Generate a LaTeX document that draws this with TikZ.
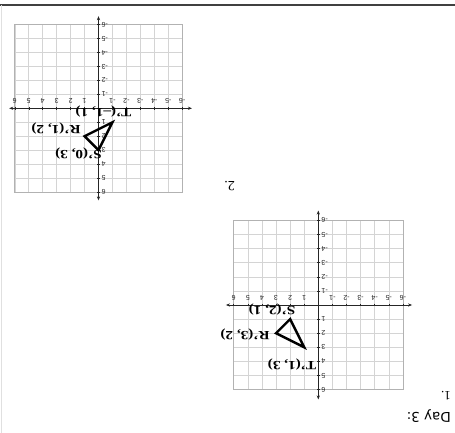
\documentclass[tikz,border=0pt]{standalone}
\usepackage{fontspec}
\setmainfont{Liberation Serif}
\newfontfamily\dayfont{DejaVu Sans}
\newfontfamily\tickfont{Liberation Sans}
\usetikzlibrary{arrows.meta}
\tikzset{
  gridline/.style={draw=black!17, line width=0.6pt},
  gridframe/.style={draw=black!30, line width=0.7pt},
  axisline/.style={draw=black!85, line width=0.8pt, {Stealth[length=4pt,width=3.2pt]}-{Stealth[length=4pt,width=3.2pt]}},
  tickmark/.style={draw=black!85, line width=0.5pt},
  ticklab/.style={font=\tickfont\fontsize{7}{8}\selectfont, text=black!85, inner sep=0.5pt},
  tri/.style={draw=black, line width=2.4pt, line join=miter},
  ptlab/.style={font=\bfseries\fontsize{12.5}{14}\selectfont, inner sep=0pt, xscale=1.22},
}
\begin{document}
\begin{tikzpicture}[x=1pt,y=-1pt]
\useasboundingbox (0,0) rectangle (455,433);
\fill[white] (0,0) rectangle (455,433);
\begin{scope}[shift={(455,433)}, rotate=180, transform shape]
  % page rule and edge
  \draw[line width=1.5pt, black!75] (0,428) -- (455,428);
  \draw[black!12, line width=0.6pt] (454,0) -- (454,428);
  % headings
  \node[anchor=west, font=\dayfont\fontsize{13.5}{16}\selectfont, inner sep=0pt] (day) at (4,16.5) {Day 3:};
  \node[anchor=west, font=\fontsize{13}{15}\selectfont, inner sep=0pt] (one) at (4,37) {1.};
  \node[anchor=west, font=\fontsize{14}{16}\selectfont, inner sep=0pt] (two) at (220,246.5) {2.};
  % ---------- graph 1 ----------
  \begin{scope}[shift={(136.7,128)}, x=14.1pt, y=14.1pt]
    \draw[gridline, step=1] (-6,-6) grid (6,6);
    \draw[gridframe] (-6,-6) rectangle (6,6);
    \draw[axisline] (-6.65,0) -- (6.55,0);
    \draw[axisline] (0,-6.7) -- (0,6.7);
    \foreach \i in {-6,...,-1,1,2,...,6}{
      \draw[tickmark] (\i,-0.1) -- (\i,0.1);
      \draw[tickmark] (-0.1,\i) -- (0.1,\i);
      \node[ticklab] at (\i,-0.5) {\i};
      \node[ticklab, anchor=east] at (-0.18,\i) {\i};
    }
    \coordinate (T1) at (1,3);
    \coordinate (R1) at (3,2);
    \coordinate (S1) at (2,1);
    \draw[tri] (T1) -- (R1) -- (S1) -- cycle;
  \end{scope}
  \node[ptlab] (t1lab) at (163,68) {T'(1, 3)};
  \node[ptlab] (r1lab) at (210,98.5) {R'(3, 2)};
  \node[ptlab] (s1lab) at (183,123) {S'(2, 1)};
  % ---------- graph 2 ----------
  \begin{scope}[shift={(356.5,324.7)}, x=13.95pt, y=13.95pt]
    \draw[gridline, step=1] (-6,-6) grid (6,6);
    \draw[gridframe] (-6,-6) rectangle (6,6);
    \draw[axisline] (-6.7,0) -- (6.4,0);
    \draw[axisline] (0,-6.6) -- (0,6.6);
    \foreach \i in {-6,...,-1,1,2,...,6}{
      \draw[tickmark] (\i,-0.1) -- (\i,0.1);
      \draw[tickmark] (-0.1,\i) -- (0.1,\i);
      \node[ticklab] at (\i,-0.5) {\i};
      \node[ticklab, anchor=east] at (-0.18,\i) {\i};
    }
    \coordinate (T2) at (-1,1);
    \coordinate (R2) at (1,2);
    \coordinate (S2) at (0,3);
    \draw[tri] (T2) -- (R2) -- (S2) -- cycle;
  \end{scope}
  \node[ptlab] (t2lab) at (351.5,321.5) {T'(–1, 1)};
  \node[ptlab] (r2lab) at (399,304) {R'(1, 2)};
  \node[ptlab] (s2lab) at (376.5,279) {S'(0, 3)};
\end{scope}
\end{tikzpicture}
\end{document}
